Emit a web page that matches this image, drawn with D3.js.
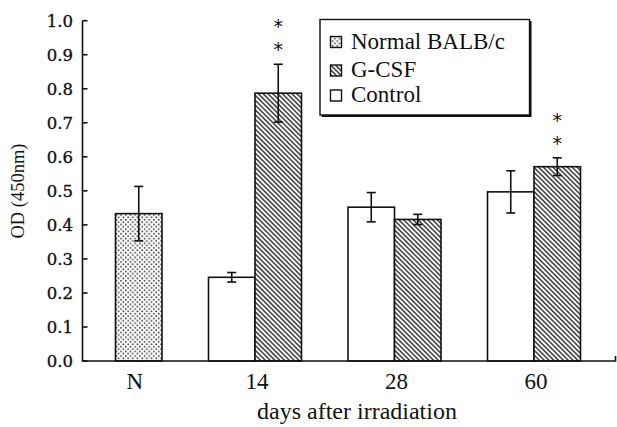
<!DOCTYPE html>
<html><head><meta charset="utf-8">
<script src="https://cdn.jsdelivr.net/npm/d3@7"></script>
<style>body{margin:0;background:#fff}</style>
</head><body>
<script>
// ---- data ----
const categories = ["N", "14", "28", "60"];
const seriesNames = ["Normal BALB/c", "G-CSF", "Control"];
const normalMean = [0.433, null, null, null];
const normalErr  = [0.080, null, null, null];
const controlMean = [null, 0.246, 0.452, 0.497];
const controlErr  = [null, 0.014, 0.043, 0.062];
const gcsfMean = [null, 0.787, 0.416, 0.571];
const gcsfErr  = [null, 0.085, 0.015, 0.026];
const gcsfSig  = ["", "**", "", "**"];
const yTicks = [0, 0.1, 0.2, 0.3, 0.4, 0.5, 0.6, 0.7, 0.8, 0.9, 1.0];
const yTitle = "OD (450nm)";
const xTitle = "days after irradiation";

// ---- layout ----
const W = 617, H = 427;
const axisLeft = 82.5, axisRight = 615.5, yTop = 20.7, yBottom = 361;
const serif = "'Liberation Serif', 'Times New Roman', serif";
const svg = d3.select("body").append("svg").attr("width", W).attr("height", H);

const y = d3.scaleLinear().domain([0, 1]).range([yBottom, yTop]);
const x = d3.scaleBand().domain(categories).range([45.75, 603.75]);
const slot = d3.scaleBand().domain(["Control", "G-CSF"]).range([23.25, x.bandwidth() - 23.25]);

// patterns
const defs = svg.append("defs");
const dots = defs.append("pattern").attr("id", "dots").attr("patternUnits", "userSpaceOnUse")
  .attr("width", 4.7).attr("height", 4.7);
dots.append("rect").attr("width", 4.7).attr("height", 4.7).attr("fill", "#fff");
dots.append("circle").attr("cx", 1.2).attr("cy", 1.2).attr("r", 0.85).attr("fill", "#333");
dots.append("circle").attr("cx", 3.55).attr("cy", 3.55).attr("r", 0.85).attr("fill", "#333");
const hatch = defs.append("pattern").attr("id", "hatch").attr("patternUnits", "userSpaceOnUse")
  .attr("width", 3.4).attr("height", 3.4).attr("patternTransform", "rotate(-45)");
hatch.append("rect").attr("width", 3.4).attr("height", 3.4).attr("fill", "#fff");
hatch.append("line").attr("x1", 0.8).attr("y1", 0).attr("x2", 0.8).attr("y2", 3.4)
  .attr("stroke", "#222").attr("stroke-width", 1.35);

// bars data
const bars = [];
categories.forEach((c, i) => {
  if (normalMean[i] != null) bars.push({cat: c, x0: x(c) + slot("G-CSF"), v: normalMean[i], e: normalErr[i], fill: "url(#dots)", sig: ""});
  if (controlMean[i] != null) bars.push({cat: c, x0: x(c) + slot("Control"), v: controlMean[i], e: controlErr[i], fill: "#fff", sig: ""});
  if (gcsfMean[i] != null) bars.push({cat: c, x0: x(c) + slot("G-CSF"), v: gcsfMean[i], e: gcsfErr[i], fill: "url(#hatch)", sig: gcsfSig[i]});
});
const bw = slot.bandwidth();

svg.append("g").selectAll("rect").data(bars).join("rect")
  .attr("x", d => d.x0).attr("y", d => y(d.v))
  .attr("width", bw).attr("height", d => y(0) - y(d.v))
  .attr("fill", d => d.fill).attr("stroke", "#111").attr("stroke-width", 1.6);

// error bars
const eg = svg.append("g").attr("stroke", "#111").attr("stroke-width", 1.6);
bars.forEach(d => {
  const cx = d.x0 + bw / 2;
  eg.append("line").attr("x1", cx).attr("x2", cx).attr("y1", y(d.v + d.e)).attr("y2", y(d.v - d.e));
  eg.append("line").attr("x1", cx - 4.5).attr("x2", cx + 4.5).attr("y1", y(d.v + d.e)).attr("y2", y(d.v + d.e));
  eg.append("line").attr("x1", cx - 4.5).attr("x2", cx + 4.5).attr("y1", y(d.v - d.e)).attr("y2", y(d.v - d.e));
  if (d.sig) {
    d.sig.split("").forEach((s, k) => {
      svg.append("text").attr("x", cx).attr("y", y(d.v + d.e) - 8 - k * 23)
        .attr("text-anchor", "middle").style("font-family", "'DejaVu Sans'").style("font-size", "19px")
        .attr("fill", "#111").text(s);
    });
  }
});

// axes
const ax = svg.append("g").attr("stroke", "#111").attr("stroke-width", 1.6).attr("fill", "none");
ax.append("path").attr("d", `M${axisLeft},${yTop}V${yBottom}H${axisRight}V${yBottom - 5}`);
yTicks.forEach(t => {
  ax.append("line").attr("x1", axisLeft).attr("x2", axisLeft + 5).attr("y1", y(t)).attr("y2", y(t));
});
svg.append("g").selectAll("text").data(yTicks).join("text")
  .attr("x", 73).attr("y", d => y(d)).attr("dy", "0.36em").attr("text-anchor", "end")
  .style("font-family", "'DejaVu Serif'").style("font-size", "16.5px")
  .attr("fill", "#111").attr("stroke", "#111").attr("stroke-width", 0.35)
  .text(d3.format(".1f"));

// x tick labels
svg.append("g").selectAll("text").data(categories).join("text")
  .attr("x", (c, i) => i === 0 ? x(c) + slot("G-CSF") + bw / 2 - 4 : x(c) + x.bandwidth() / 2 + 2)
  .attr("y", 389).attr("text-anchor", "middle")
  .style("font-family", serif).style("font-size", "23px").attr("fill", "#111")
  .text(d => d);

svg.append("text").attr("x", 357).attr("y", 419).attr("text-anchor", "middle")
  .style("font-family", serif).style("font-size", "24px").attr("fill", "#111").text(xTitle);
svg.append("text").attr("transform", "translate(24,191) rotate(-90)").attr("text-anchor", "middle")
  .style("font-family", serif).style("font-size", "18.5px").attr("fill", "#111").text(yTitle);

// legend
const lg = svg.append("g");
lg.append("rect").attr("x", 321.5).attr("y", 21).attr("width", 210).attr("height", 96).attr("fill", "#111");
lg.append("rect").attr("x", 320).attr("y", 19.5).attr("width", 209.5).attr("height", 95.5)
  .attr("fill", "#fff").attr("stroke", "#111").attr("stroke-width", 1.4);
const fills = ["url(#dots)", "url(#hatch)", "#fff"];
const baselines = [48.5, 77, 102];
seriesNames.forEach((s, i) => {
  lg.append("rect").attr("x", 330.5).attr("y", baselines[i] - 12).attr("width", 11).attr("height", 11)
    .attr("fill", fills[i]).attr("stroke", "#111").attr("stroke-width", 1.4);
  lg.append("text").attr("x", 351).attr("y", baselines[i])
    .style("font-family", serif).style("font-size", "23px").attr("fill", "#111").text(s);
});
</script>
</body></html>
